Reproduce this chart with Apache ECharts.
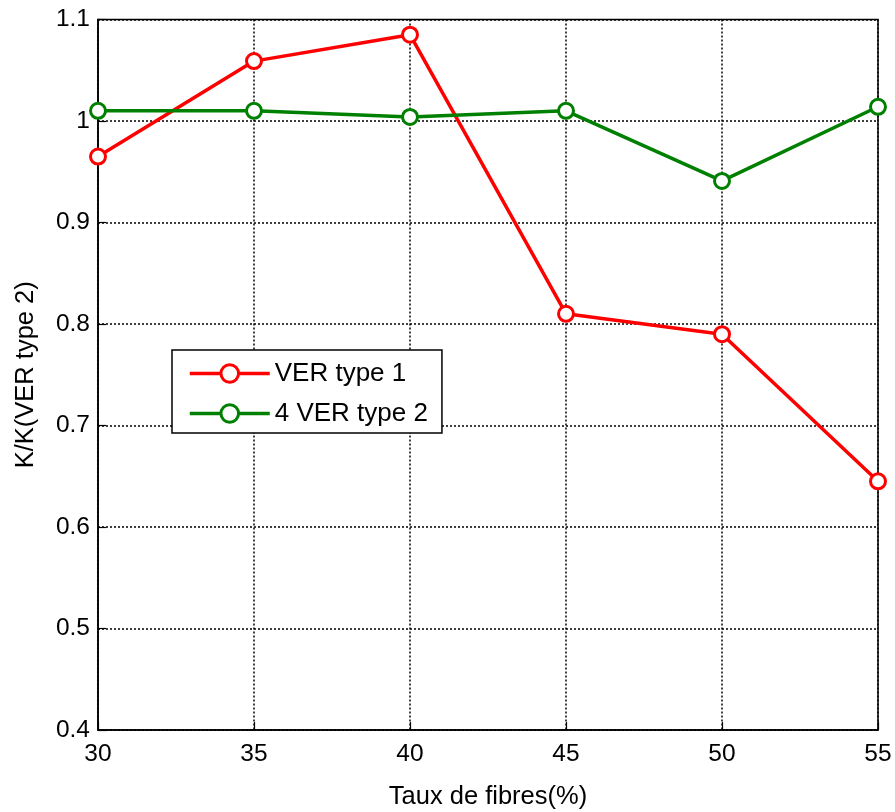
<!DOCTYPE html>
<html>
<head>
<meta charset="utf-8">
<script src="https://cdn.jsdelivr.net/npm/echarts@6/dist/echarts.min.js"></script>
<style>
html,body{margin:0;padding:0;background:#fff;}
#chart{width:895px;height:812px;}
</style>
</head>
<body>
<div id="chart"></div>
<script>
const fibreRates = [30, 35, 40, 45, 50, 55];
const verType1 = [0.965, 1.059, 1.085, 0.810, 0.790, 0.645];
const verType2x4 = [1.010, 1.010, 1.004, 1.010, 0.941, 1.014];
const seriesNames = ['VER type 1', '4 VER type 2'];
const xTitle = 'Taux de fibres(%)';
const yTitle = 'K/K(VER type 2)';

const font = 'Liberation Sans, Arial, Helvetica, sans-serif';
const chart = echarts.init(document.getElementById('chart'), null, {renderer: 'canvas'});

function pairs(ys) { return fibreRates.map((x, i) => [x, ys[i]]); }

const gridLine = {show: true, lineStyle: {color: '#000', type: [2, 2], width: 1.5}};

chart.setOption({
  animation: false,
  backgroundColor: '#fff',
  grid: {left: 98, right: 17, top: 19.5, bottom: 82, show: true, borderColor: '#000', borderWidth: 1.5,
    backgroundColor: 'transparent', containLabel: false, outerBoundsMode: 'none'},
  xAxis: {
    type: 'value', min: 30, max: 55, interval: 5,
    name: xTitle, nameLocation: 'middle', nameGap: 54,
    nameTextStyle: {color: '#000', fontSize: 25.5, fontFamily: font},
    axisLine: {show: true, lineStyle: {color: '#000', width: 1.5}},
    axisTick: {show: true, inside: true, length: 8, lineStyle: {color: '#000', width: 1.2}},
    axisLabel: {color: '#000', fontSize: 24.5, fontFamily: font, margin: 12},
    splitLine: gridLine
  },
  yAxis: {
    type: 'value', min: 0.4, max: 1.1, interval: 0.1,
    name: yTitle, nameLocation: 'middle', nameGap: 59,
    nameTextStyle: {color: '#000', fontSize: 25.5, fontFamily: font},
    axisLine: {show: true, lineStyle: {color: '#000', width: 1.5}},
    axisTick: {show: true, inside: true, length: 8, lineStyle: {color: '#000', width: 1.2}},
    axisLabel: {color: '#000', fontSize: 24.5, fontFamily: font, margin: 8, padding: [4, 0, 0, 0],
      formatter: v => String(Math.round(v * 10) / 10)},
    splitLine: gridLine
  },
  legend: {
    show: true, orient: 'vertical', left: 172, top: 350,
    padding: [10, 14, 6, 16], itemGap: 13, itemWidth: 80, itemHeight: 22,
    borderColor: '#000', borderWidth: 1.5, backgroundColor: '#fff',
    lineStyle: {width: 3.5},
    itemStyle: {borderWidth: 3},
    textStyle: {color: '#000', fontSize: 26, fontFamily: font, lineHeight: 27},
    data: seriesNames
  },
  series: [
    {
      name: seriesNames[0], type: 'line', data: pairs(verType1),
      symbol: 'circle', symbolSize: 15, showSymbol: true,
      lineStyle: {color: '#ff0000', width: 3.5},
      itemStyle: {color: '#fff', borderColor: '#ff0000', borderWidth: 3},
      z: 3
    },
    {
      name: seriesNames[1], type: 'line', data: pairs(verType2x4),
      symbol: 'circle', symbolSize: 15, showSymbol: true,
      lineStyle: {color: '#008000', width: 3.5},
      itemStyle: {color: '#fff', borderColor: '#008000', borderWidth: 3},
      z: 3
    }
  ]
});
</script>
</body>
</html>
